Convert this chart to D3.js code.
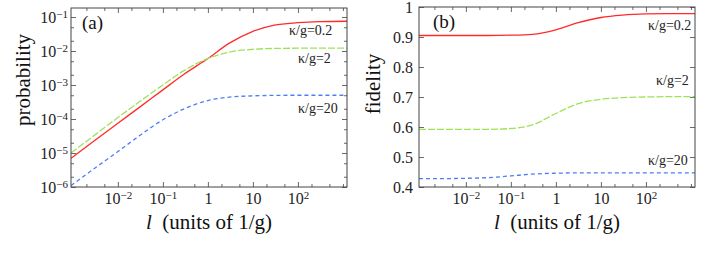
<!DOCTYPE html>
<html>
<head>
<meta charset="utf-8">
<script src="https://cdn.jsdelivr.net/npm/d3@7"></script>
<style type="text/css">
body{ margin: 0; background: #fff }
svg{ font-family: "Liberation Serif", "Times New Roman", serif }
.frame{ fill: none; stroke: #444; stroke-width: 1 }
.axis path{ display: none }
.axis line{ stroke: #444; stroke-width: 0.8 }
.axis text{ fill: #222; font-size: 16px; font-family: "Liberation Serif", serif }
.curve{ fill: none; stroke-width: 1.3 }
</style>
</head>
<body>
<script type="text/javascript">
var width = 708,
    height = 254;

// interaction time l (units of 1/g)
var lVals = [0.00091, 0.003, 0.01, 0.03, 0.1, 0.3, 1, 3, 10, 30, 100, 300, 1230];

// panel (a): probability
var probRed   = [7.0e-6, 2.3e-5, 7.5e-5, 2.2e-4, 7.2e-4, 2.1e-3, 6.0e-3, 1.7e-2, 3.8e-2, 5.8e-2, 6.8e-2, 7.3e-2, 7.5e-2];
var probGreen = [1.0e-5, 3.3e-5, 1.1e-4, 3.2e-4, 1.0e-3, 2.7e-3, 6.0e-3, 9.3e-3, 1.12e-2, 1.19e-2, 1.21e-2, 1.22e-2, 1.22e-2];
var probBlue  = [1.1e-6, 3.5e-6, 1.1e-5, 3.2e-5, 9.5e-5, 2.0e-4, 3.5e-4, 4.4e-4, 4.8e-4, 4.95e-4, 5.0e-4, 5.0e-4, 5.0e-4];

// panel (b): fidelity
var fidRed   = [0.905, 0.905, 0.905, 0.905, 0.906, 0.909, 0.924, 0.947, 0.965, 0.973, 0.977, 0.978, 0.978];
var fidGreen = [0.592, 0.592, 0.592, 0.592, 0.595, 0.607, 0.645, 0.677, 0.692, 0.698, 0.700, 0.701, 0.701];
var fidBlue  = [0.428, 0.428, 0.429, 0.431, 0.437, 0.443, 0.446, 0.447, 0.447, 0.447, 0.447, 0.447, 0.447];

var seriesNames = ['κ/g=0.2', 'κ/g=2', 'κ/g=20'];
var colors = ['#ff2b2b', '#9fe25a', '#4d7ef5'];
var dashes = [null, '7,2', '4,3'];

var xMajor = [1e-2, 1e-1, 1, 10, 100];
var xMinor = [2e-3, 5e-3, 2e-2, 5e-2, 0.2, 0.5, 2, 5, 20, 50, 200, 500, 1000];
var yMajorA = [1e-6, 1e-5, 1e-4, 1e-3, 1e-2, 1e-1];
var yMinorA = [2e-6, 5e-6, 2e-5, 5e-5, 2e-4, 5e-4, 2e-3, 5e-3, 2e-2, 5e-2];
var yMajorB = [0.4, 0.5, 0.6, 0.7, 0.8, 0.9, 1];

var svg = d3.select('body')
    .append('svg')
        .attr('width', width)
        .attr('height', height);

function powLabel(sel){
    sel.each(function(d){
        var t = d3.select(this);
        var e = Math.round(Math.log10(d));
        t.text(null);
        if(e === 0){ t.text('1'); return; }
        if(e === 1){ t.text('10'); return; }
        t.append('tspan').text('10');
        t.append('tspan')
            .attr('dy', '-0.45em')
            .attr('font-size', '11px')
            .text(e < 0 ? '\u2212' + (-e) : e);
    });
}

function panel(opt){
    var x = d3.scaleLog().domain([0.00091, 1230]).range([opt.left, opt.right]);
    var y = opt.y;
    var g = svg.append('g');

    var clipId = 'clip' + opt.name.replace(/\W/g, '');
    svg.append('clipPath').attr('id', clipId)
        .append('rect')
            .attr('x', opt.left).attr('y', opt.top)
            .attr('width', opt.right - opt.left).attr('height', opt.bottom - opt.top);

    // bottom ticks + labels
    g.append('g').attr('class', 'axis')
        .attr('transform', 'translate(0,' + opt.bottom + ')')
        .call(d3.axisBottom(x).tickValues(xMajor).tickSizeInner(-5).tickSizeOuter(0).tickPadding(6))
        .selectAll('.tick text').call(powLabel);
    g.append('g').attr('class', 'axis')
        .attr('transform', 'translate(0,' + opt.bottom + ')')
        .call(d3.axisBottom(x).tickValues(xMinor).tickSizeInner(-3).tickSizeOuter(0).tickFormat(''));
    // top ticks
    g.append('g').attr('class', 'axis')
        .attr('transform', 'translate(0,' + opt.top + ')')
        .call(d3.axisTop(x).tickValues(xMajor).tickSizeInner(-5).tickSizeOuter(0).tickFormat(''));
    g.append('g').attr('class', 'axis')
        .attr('transform', 'translate(0,' + opt.top + ')')
        .call(d3.axisTop(x).tickValues(xMinor).tickSizeInner(-3).tickSizeOuter(0).tickFormat(''));

    // left ticks + labels
    var left = g.append('g').attr('class', 'axis')
        .attr('transform', 'translate(' + opt.left + ',0)')
        .call(d3.axisLeft(y).tickValues(opt.yMajor).tickSizeInner(-5).tickSizeOuter(0).tickPadding(opt.yPad).tickFormat(opt.yFormat || null));
    if(opt.log) left.selectAll('.tick text').call(powLabel);
    g.append('g').attr('class', 'axis')
        .attr('transform', 'translate(' + opt.right + ',0)')
        .call(d3.axisRight(y).tickValues(opt.yMajor).tickSizeInner(-5).tickSizeOuter(0).tickFormat(''));
    if(opt.yMinor){
        g.append('g').attr('class', 'axis')
            .attr('transform', 'translate(' + opt.left + ',0)')
            .call(d3.axisLeft(y).tickValues(opt.yMinor).tickSizeInner(-3).tickSizeOuter(0).tickFormat(''));
        g.append('g').attr('class', 'axis')
            .attr('transform', 'translate(' + opt.right + ',0)')
            .call(d3.axisRight(y).tickValues(opt.yMinor).tickSizeInner(-3).tickSizeOuter(0).tickFormat(''));
    }

    // curves
    var line = d3.line()
        .x(function(d){ return x(d[0]); })
        .y(function(d){ return y(d[1]); })
        .curve(d3.curveMonotoneX);

    opt.series.forEach(function(vals, i){
        g.append('path')
            .attr('class', 'curve')
            .attr('clip-path', 'url(#' + clipId + ')')
            .attr('d', line(lVals.map(function(l, k){ return [l, vals[k]]; })))
            .attr('stroke', colors[i])
            .attr('stroke-dasharray', dashes[i]);
    });

    g.append('rect')
        .attr('class', 'frame')
        .attr('x', opt.left).attr('y', opt.top)
        .attr('width', opt.right - opt.left).attr('height', opt.bottom - opt.top);

    // curve labels
    opt.labels.forEach(function(p, i){
        g.append('text')
            .attr('x', p[0]).attr('y', p[1])
            .attr('font-size', '14px')
            .attr('fill', '#222')
            .text(seriesNames[i]);
    });

    // panel tag
    g.append('text')
        .attr('x', opt.tag[0]).attr('y', opt.tag[1])
        .attr('font-size', '19px')
        .attr('fill', '#111')
        .text(opt.name);

    // y title
    g.append('text')
        .attr('transform', 'translate(' + opt.ytitle[0] + ',' + opt.ytitle[1] + ') rotate(-90)')
        .attr('text-anchor', 'middle')
        .attr('font-size', '21px')
        .attr('fill', '#111')
        .text(opt.ytext);

    // x title
    var xt = g.append('text')
        .attr('x', (opt.left + opt.right) / 2)
        .attr('y', 229)
        .attr('text-anchor', 'middle')
        .attr('font-size', '21px')
        .attr('fill', '#111');
    xt.append('tspan').attr('font-style', 'italic').text('l');
    xt.append('tspan').text('\u00a0\u00a0(units of 1/g)');
}

panel({
    name: '(a)',
    left: 71, right: 347, top: 8, bottom: 187,
    y: d3.scaleLog().domain([1e-6, Math.pow(10, -0.735)]).range([187, 8]),
    log: true,
    yMajor: yMajorA, yMinor: yMinorA, yPad: 3,
    series: [probRed, probGreen, probBlue],
    labels: [[289, 35], [298, 63], [298, 113]],
    tag: [82, 29],
    ytitle: [30, 80], ytext: 'probability'
});

panel({
    name: '(b)',
    left: 419, right: 695, top: 7, bottom: 187,
    y: d3.scaleLinear().domain([0.4, 1]).range([187, 7]),
    log: false,
    yMajor: yMajorB, yPad: 6,
    yFormat: function(d){ return d === 1 ? '1' : d3.format('.1f')(d); },
    series: [fidRed, fidGreen, fidBlue],
    labels: [[648, 30], [656, 85], [648, 165]],
    tag: [433, 28],
    ytitle: [380, 84], ytext: 'fidelity'
});
</script>
</body>
</html>
